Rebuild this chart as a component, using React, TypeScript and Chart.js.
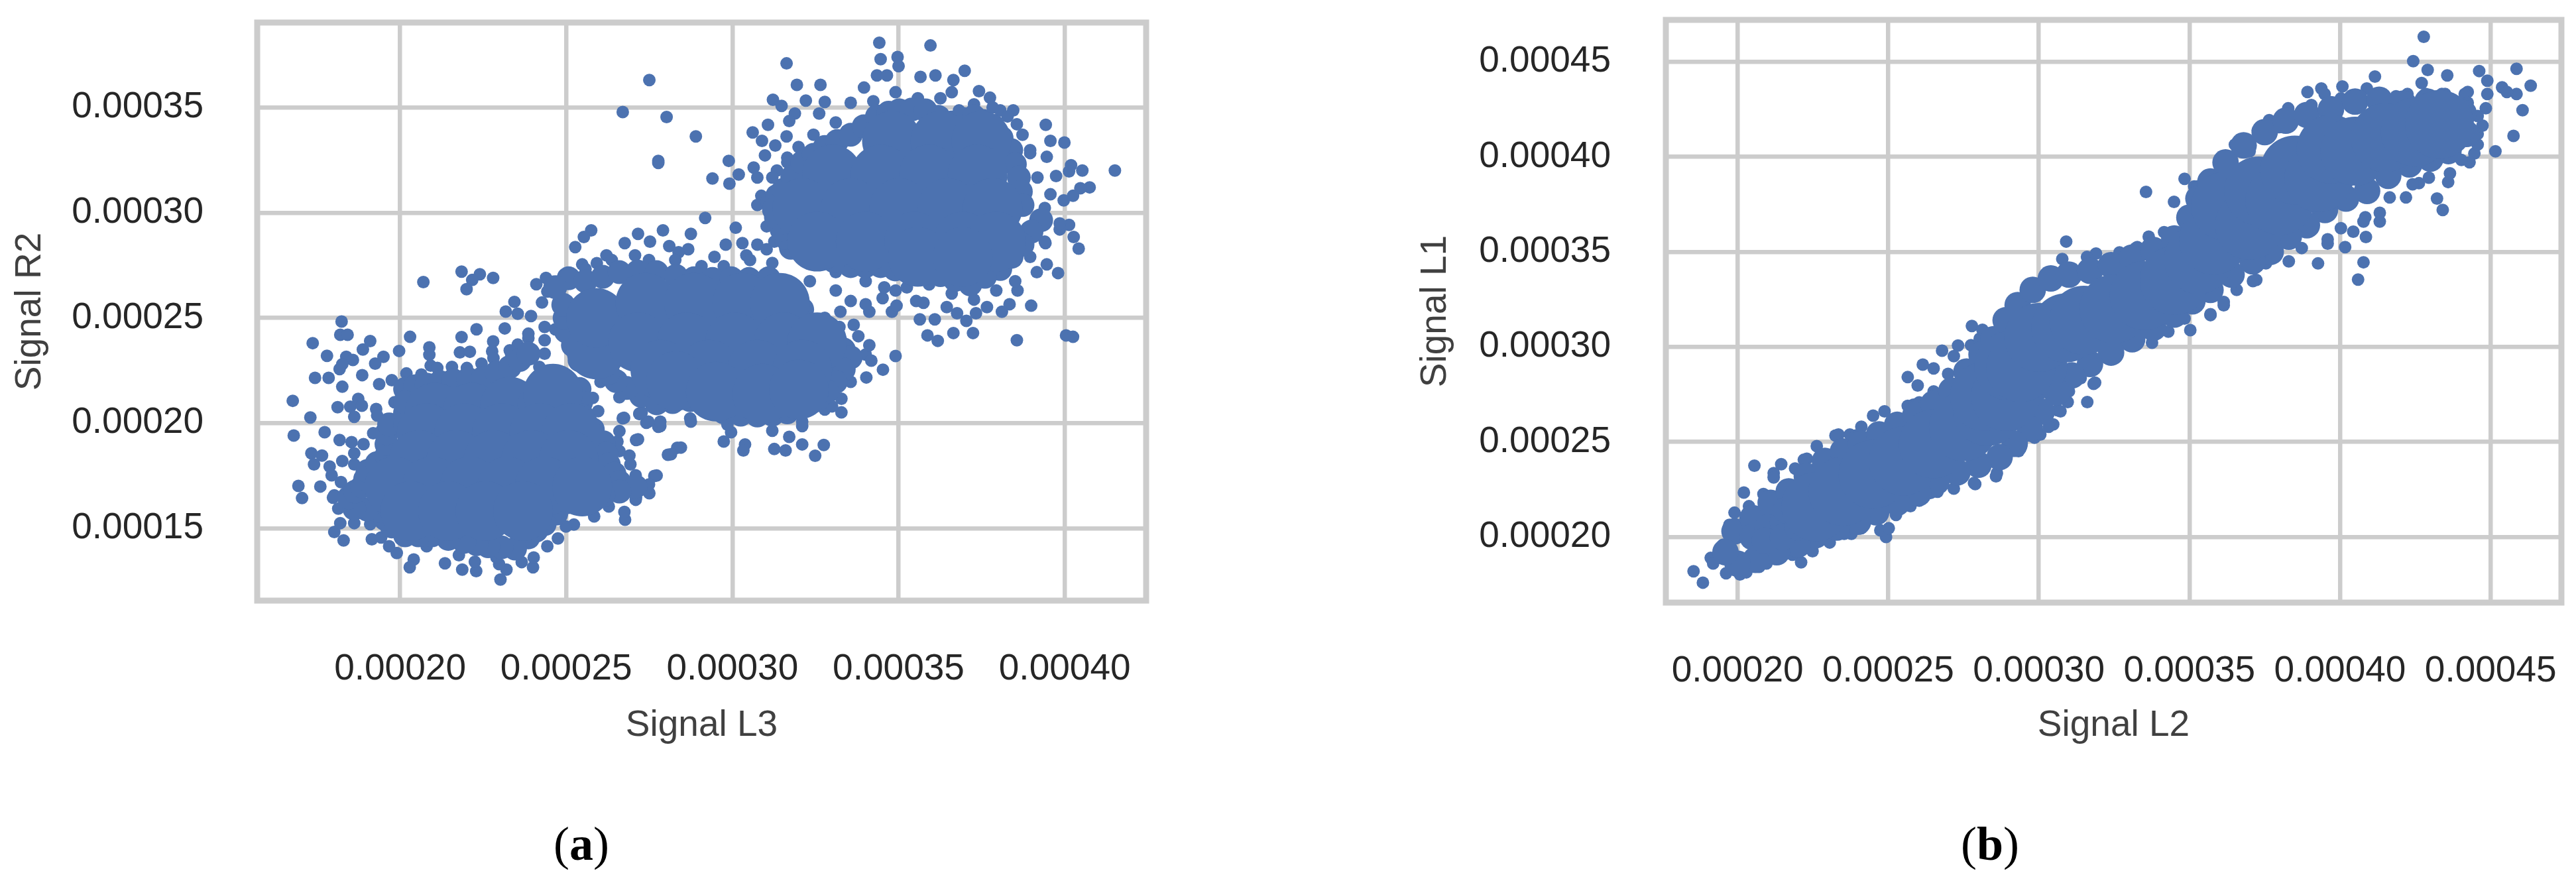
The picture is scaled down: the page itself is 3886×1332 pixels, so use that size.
import React, { useEffect, useRef } from "react";
import { Chart, registerables } from "chart.js";

Chart.register(...registerables);

// All signal values below are in units of 1e-5 as [x, y] pairs.
// The thousands of overlapping dots in the solid areas cannot be read one by one, so
// the "Core" and "Mantle" lists are hand-placed larger markers standing in for them.
const UNIT = 1e-5;

const aTicksX = [20, 25, 30, 35, 40];
const aTicksY = [15, 20, 25, 30, 35];
const bTicksX = [20, 25, 30, 35, 40, 45];
const bTicksY = [20, 25, 30, 35, 40, 45];

const aSparse = [
  [20.7,26.7],[21.85,27.2],[22.4,27.07],[22.8,26.9],[22.17,26.8],[22,26.36],[18.24,24.83],[18.2,24.2],[18.42,24.2],
  [17.37,23.8],[19.1,23.9],[18.88,23.5],[17.8,23.2],[18.38,23.15],[18.58,23],[19.5,23.15],[19.25,22.83],[19.97,23.43],
  [20.3,24.1],[18.18,22.57],[18.26,22.8],[17.44,22.15],[17.85,22.15],[18.86,22.28],[18.26,21.73],[19.37,21.85],
  [16.77,21.06],[18.12,20.76],[18.5,20.78],[18.74,21.15],[18.85,20.83],[18.62,20.3],[17.3,20.27],[19.28,20.67],
  [16.8,19.41],[17.73,19.57],[18.18,19.2],[18.54,19.1],[18.9,19],[18.62,18.57],[17.33,18.57],[17.65,18.46],[17.41,18.04],
  [18.26,18.2],[17.88,17.94],[17.94,17.52],[17.6,16.99],[16.94,17.02],[17.05,16.44],[17.98,16.46],[18.02,14.83],[18.2,15.25],
  [18.3,14.43],[19.15,14.48],[19.9,13.83],[20.41,13.52],[20.29,13.15],[21.35,13.34],[21.87,13.04],[22.29,12.97],[23.02,12.57],
  [23.2,13.04],[22.98,13.3],[23.66,13.4],[24,13.15],[24.75,14.52],[25.23,15.18],[25.84,15.57],[26.77,15.41],[26.75,15.78],
  [27.65,17.49],[27.5,16.67],[27.1,16.46],[26.9,18.46],[27.1,19.2],[28.06,18.5],[28.34,18.83],[26.7,20.23],[27.2,20.46],
  [27.41,20.02],[27.77,19.83],[21.85,24.09],[22.3,24.46],[20.88,23.6],[20.88,23.25],[20.92,22.73],[21.8,23.36],[22.1,23.39],
  [22.8,23.88],[22.77,23.41],[23.15,24.5],[23.18,25.3],[23.44,25.76],[24.1,26.6],[24.39,26.9],
  [27.5,36.3],[26.7,34.78],[28.02,34.54],[28.9,33.62],[27.77,32.46],[27.77,32.36],[29.18,29.75],[31.63,37.09],[34.42,38.07],
  [35.96,37.94],[34.46,37.29],[34.97,37.39],[35,36.96],[34.35,36.52],[34.65,36.52],[31.94,36.07],[32.65,36.07],[33.96,35.94],
  [35.66,36.45],[36.11,36.52],[36.99,36.74],[36.65,36.3],[36.6,35.72],[37.42,35.77],[37.75,35.46],[31.22,35.36],[31.48,35.07],
  [32.21,35.32],[32.78,35.26],[32.61,34.71],[31.88,34.71],[31.71,34.35],[31.07,34.17],[30.61,33.81],[30.89,33.41],[31.63,33.62],
  [31.29,33.19],[30.98,32.72],[29.89,32.46],[29.4,31.62],[29.91,31.38],[30.19,31.81],[30.64,32.14],[30.75,31.67],[31.34,32],
  [31.65,32.61],[38.06,34.86],[38.45,34.86],[38.56,34.2],[39.43,34.17],[39.57,33.41],[39.99,33.33],[39.46,32.65],[38.96,32.97],
  [40.19,32.25],[40.53,32],[41.51,32],[40.13,31.96],[39.74,31.74],[40.75,31.2],[40.47,31.16],[40.25,30.8],[39.97,30.58],
  [39.57,30.87],[40.13,29.42],[39.85,29.2],[40.27,28.84],[40.42,28.29],[39.8,27.13],[39.42,28.55],[39.46,27.54],[39.16,27.17],
  [38.99,25.58],[38.58,26.3],[38.34,25.65],[38.11,25.29],[38.56,23.94],[40.04,24.17],[40.25,24.1],[37.66,25.51],[37.33,25.22],
  [37.04,24.86],[37.24,24.28],[36.65,24.28],[36.76,25.22],[36.45,25.51],[36.09,24.93],[36.18,23.91],[35.87,24.17],[35.64,24.93],
  [35.53,25.8],[35.75,25.72],[34.8,25.29],[34.94,25.58],[34.52,25.94],[34.12,25.29],[34.01,25.65],[33.56,25.8],[33.25,25.29],
  [33.65,24.67],[34.01,23.26],[34.18,22.97],[34.53,22.54],[34.91,23.19],[34.03,22.17],[33.28,21.16],[33.28,20.51],[32.78,20.65],
  [32.1,19.86],[32.75,18.96],[32.1,18.99],[32.49,18.45],[31.6,18.7],[31.26,18.77],[31.71,19.35],[30.38,18.99],[30.33,18.7],
  [29.74,19.13],[29.96,19.57],[28.45,18.84],[28.15,18.52],[27.16,19.23],[26.74,20.25],[26.54,19.13],[27.72,17.51],[28.75,20.07],
  [27.83,19.86],[27.47,20.07],[27.2,20.43],[25.75,29.16],[25.53,28.84],[25.27,28.36],[27.16,28.99],[26.76,28.55],[27.52,28.62],
  [27.91,29.16],[28.75,28.99],[28.67,28.26],[28.1,28.41],[27.07,27.97],[26.21,27.97],[25.48,27.54],[28.38,28.12],[30.1,29.28],
  [29.8,28.48],[30.3,28.55],[30.75,28.48],[31.03,28.26],[30.42,27.97],[29.46,27.9],[25.92,27.6],
  [23.54,25.2],[23.94,25.09],[24.35,24.57],[23.86,24.04],[23.54,23.73],[24.35,23.94],[24.67,24.46],[24.27,25.73],[24.43,26.25],
  [23.34,23.3],[23.86,23.2],[24.35,23.3],[24.19,22.67],[32.33,26.74],[33.11,27.17],[33.11,26.3],[34.01,26.74],[34.91,26.3],[34.57,26.45],
];

const aEdge = [
  [19.75,22.04],[19.83,20.99],[19.31,20.36],[19.19,19.52],[20.19,22.36],[20.64,22.31],[21.12,22.62],[21.56,22.67],[22.01,22.62],[22.45,22.83],
  [22.81,23.09],[23.3,23.46],[23.86,24.25],[18.62,18.04],[18.22,17.2],[18.02,16.57],[18.14,15.94],[18.62,15.25],[19.1,15.2],[19.43,14.57],
  [19.67,14.15],[20.8,14.15],[21.77,13.73],[22.25,13.41],[22.9,13.62],[24.02,13.62],[24.43,14.15],[24.99,15.09],[25.56,15.94],[26.28,16.04],
  [27.09,16.36],[27.49,17.09],[27.09,17.52],[26.93,18.04],[26.6,18.67],[26.6,19.62],[25.96,20.57],[25.8,21.2],
  [25.58,27.32],[26.37,27.75],[27.49,27.75],[28.28,27.75],[29.07,27.46],[29.74,27.46],[30.53,27.75],[31.2,27.61],
  [32.78,25],[33.22,24.57],[33.79,24.13],[34.12,23.7],[33.67,22.97],[33.56,21.96],[33,20.8],[32.1,20.07],[31.2,19.64],[29.85,19.93],
  [28.73,20.22],[27.83,20.07],[27.27,20.51],[26.6,21.23],[26.03,21.96],
  [33.56,35.22],[34.24,35.29],[34.91,35.72],[35.58,35.43],[36.26,35.43],[36.82,34.86],[37.27,35.14],[37.83,35],[38.28,34.57],[38.73,33.7],
  [38.96,32.83],[39.18,31.67],[39.4,30.22],[39.85,29.49],[39.4,28.62],[38.96,27.9],[38.51,26.74],[37.94,26.3],[37.27,25.87],[36.6,26.16],
  [35.92,26.59],[35.25,26.45],[33.11,34.28],[32.44,33.7],[31.99,33.12],[31.65,32.39],[31.2,31.67],[30.87,30.8],[30.75,30.36],[31.03,29.35],[31.26,28.62],
];

const aMantle = [
  [20.15,21.62],[20.45,21.75],[20.8,21.83],[21.2,21.95],[21.6,22.04],[22.05,22.1],[22.49,22.15],[22.9,22.4],[23.3,22.67],[23.6,23],[23.86,23.3],
  [25.4,21.62],[25.45,21],[25.48,20.36],[25.8,19.7],[26.12,19.09],[26.2,18.55],[26.28,18.04],[26.45,17.6],[26.6,17.2],[27.09,16.99],[26.6,16.75],
  [26.12,16.57],[25.6,16.4],[25.07,16.25],[24.7,15.7],[24.35,15.2],[24.1,14.9],[23.86,14.57],[23.46,14.04],[23.05,14.1],[22.65,14.15],[22.3,14.25],
  [21.93,14.36],[21.45,14.5],[20.96,14.67],[20.55,14.67],[20.15,14.67],[19.75,15.09],[19.55,15.45],[19.35,15.83],[19,15.9],[18.62,15.94],[18.46,16.46],
  [18.65,16.75],[18.86,16.99],[18.95,17.35],[19.02,17.73],[19.3,18.1],[19.59,18.46],[19.59,19],[19.59,19.52],[19.67,19.94],[20.15,19.94],[20.15,20.5],[20.15,20.99],
  [25.07,26.88],[25.58,26.74],[26.1,26.95],[26.6,27.17],[27.15,27.2],[27.72,27.17],[28.3,27],[28.84,26.88],[29.4,26.85],[29.97,26.88],[30.5,26.85],[31.09,26.88],
  [31.5,26.5],[31.88,26.16],[32.1,25.4],[32.33,24.57],[32.7,24.2],[33.11,23.84],[33.35,23.5],[33.56,23.12],[33.35,22.55],[33.11,21.96],[32.85,21.5],[32.55,21.09],
  [32.1,20.8],[31.65,20.51],[31.2,20.4],[30.75,20.36],[30.25,20.4],[29.74,20.51],[29.25,20.8],[28.73,21.09],[28.2,21],[27.72,20.94],[27.25,21.3],[26.82,21.67],
  [26.5,22],[26.26,22.39],[25.8,22.8],[25.4,22.99],[25.2,23.7],[24.99,24.36],[24.95,25],[24.91,25.62],[24.67,26.46],
  [31.2,30.51],[31.35,30.8],[31.54,31.09],[31.8,31.7],[32.1,32.39],[32.45,32.75],[32.78,33.12],[33.15,33.4],[33.56,33.7],[33.95,34.1],[34.35,34.57],[34.7,34.75],
  [35.02,34.86],[35.4,34.9],[35.81,34.86],[36.2,34.55],[36.6,34.28],[36.95,34.45],[37.27,34.57],[37.55,34.35],[37.83,34.13],[38.1,33.55],[38.39,32.97],[38.5,32.3],
  [38.62,31.67],[38.68,31],[38.73,30.36],[39.29,29.64],[39,29.1],[38.73,28.48],[38.4,27.9],[38.06,27.32],[37.6,26.95],[37.16,26.59],[36.7,26.8],[36.26,27.03],
  [35.8,27.1],[35.36,27.17],[34.9,27.3],[34.46,27.46],[34,27.45],[33.56,27.46],[33.05,27.7],[32.55,27.9],[32.15,28.1],[31.76,28.33],[31.6,28.8],[31.48,29.2],
  [31.4,29.5],[31.31,29.78],[31.25,30.15],
];

const aCore = [
  [21.04,20.5],[22.17,20.5],[23.3,20.78],[24.43,20.78],[24.6,21.4],
  [20.8,19.52],[21.93,19.52],[23.06,19.52],[24.19,19.52],[25.15,19.52],
  [20.56,18.25],[21.69,18.25],[22.81,18.25],[23.94,18.25],[25.07,18.25],
  [19.83,16.99],[20.96,16.99],[22.09,16.99],[23.22,16.99],[24.35,16.99],[25.48,16.99],
  [20.31,15.83],[21.44,15.83],[22.57,15.83],[23.7,15.83],
  [25.9,23.5],[25.9,25],
  [27.38,25.72],[28.84,25.72],[30.3,25.72],[31.43,25.72],
  [27.16,23.84],[28.62,23.84],[30.08,23.84],[31.54,23.84],[32.55,23.84],
  [27.83,22.54],[29.29,22.54],[30.75,22.54],[32.1,22.54],
  [28.3,22],[29.5,21.5],[30.9,21.4],[32,21.6],
  [34.8,33.41],[36.26,33.41],[37.49,33.41],
  [33,31.81],[34.46,31.81],[35.92,31.81],[37.38,31.81],
  [32.1,30.22],[33.56,30.22],[35.02,30.22],[36.48,30.22],[37.83,30.22],
  [32.55,28.62],[34.01,28.62],[35.47,28.62],[36.93,28.62],[37.94,28.62],
  [35.58,27.9],[36.93,27.9],
];

const bSparse = [
  [18.54,18.2],[18.85,17.6],[19.11,18.9],[19.19,18.61],[19.52,19.59],[19.73,20.64],[20.21,22.34],[20.56,23.75],[21.45,23.83],
  [22.11,18.67],[19.62,18.09],[20.08,18.03],[20.72,18.43],[21.44,19.01],[22.49,19.25],[23.06,19.71],[23.78,20.17],[24.93,20],
  [24.74,20.35],[25.02,20.46],[26.03,21.91],[26.64,22.38],[27.89,22.78],[28.58,23.19],[29.33,24.52],[30.05,25.39],[30.48,25.92],
  [30.96,27.1],[31.61,27.1],[31.82,28.06],[30.62,26.67],[25.65,28.41],[25.98,27.97],[26.15,29.07],[26.51,28.87],[26.79,29.8],
  [27.32,30.07],[27.78,31.1],[26.99,28.58],[24.5,26.38],[24.88,26.61],[25.84,26.96],[22.63,24.78],[23.35,25.39],[23.73,25.39],
  [22.3,24.12],[21.2,23.36],
  [30.91,35.54],[33.65,35.8],[34.16,36.03],[33.56,38.15],[34.49,37.63],[34.84,38.84],[35.16,38.44],[35.7,38.67],[35.11,36.99],
  [35.03,30.88],[33.27,35.25],[32.68,34.85],[31.9,34.91],[30.78,34.62],[36.35,39.48],[36.51,40.64],[37.27,41.39],[37.65,41.93],
  [38.28,42.55],[38.32,42.03],[38.92,43.41],[38.89,42.55],[39.38,43.59],[40.08,43.7],[41.16,44.22],[40.89,43.59],[42.78,46.31],
  [42.43,45.03],[42.91,44.57],[42.71,43.88],[43.56,44.28],[44.62,44.51],[44.89,44],[45.86,44.63],[46.33,43.74],[45.38,43.65],
  [45.86,43.3],[45.54,43.41],[44.89,43.3],[44.84,42.55],[46.06,42.45],[45.76,41.1],[45.16,40.29],[44.73,41.64],[44.46,40.17],
  [44.3,39.71],[43.59,38.67],[42.62,38.61],[43.22,37.8],[43.41,37.2],[42.19,37.86],[41.32,36.59],[40.84,36.82],[40.44,36.06],
  [40.86,35.78],[40.17,35.25],[39.59,35.43],[39.27,34.39],[40.78,34.45],[40.6,33.54],[44.24,43.41],[43.38,43.3],[42.24,43.3],
  [37.22,33.52],[36.14,32.36],[35.7,31.67],
];

const bEdge = [
  [19.9,21.28],[20.38,21.62],[20.86,22.26],[21.2,23.13],[21.91,23.6],[22.2,24.06],[23.25,25.34],[23.92,25.34],[24.11,25.8],[25.65,26.9],
  [26.03,27.08],[26.51,27.66],[27.18,29.51],[27.75,30.09],[28.04,30.44],[28.13,30.9],
  [20.29,18.14],[20.96,18.61],[21.82,19.07],[23.54,20.17],[24.11,20.46],[25.26,21.16],[25.74,21.62],[26.41,22.32],[27.18,22.55],[27.85,22.84],
  [28.61,23.36],[28.71,24.06],[29.38,24.64],[29.86,25.22],[30.33,25.8],[30.72,26.61],[31,27.66],[31.39,28.35],[31.87,28.12],
  [31.6,34.73],[32.68,34.97],[33.22,35.2],[33.76,35.2],[34.62,35.89],[35.05,37.05],[34.95,36.59],[35.27,38.44],[35.92,38.67],[36.24,39.6],
  [36.57,40.64],[37,40.29],[37.43,41.22],[37.97,41.56],[38.3,42.26],[39.05,42.72],[39.49,43.3],[40.03,43.07],[40.68,43.18],[41.32,43.3],
  [41.86,43.18],[42.84,43.3],[43.49,43.3],[44.14,43.3],[44.24,42.84],[44.57,42.14],
  [44.57,41.2],[44.57,40.64],[44.03,39.83],[43.65,39.13],[42.95,38.9],[42.41,38.55],[41.65,37.86],[41.32,37.05],[40.78,36.59],[40.03,36.24],
  [39.59,35.66],[38.73,35.2],[38.3,34.5],[37.54,34.39],[37.11,33.46],[36.57,33],[36.14,32.19],[35.7,31.72],[34.84,31.49],[34.3,30.8],[33.76,30.22],
];

const bMantle = [
  [19.9,20.3],[20.5,21],[21.1,21.8],[21.7,22.4],[22.3,23.2],[22.9,24],[23.5,24.5],[24.1,24.9],[24.7,25.4],[25.3,25.9],[25.9,26.4],
  [26.5,27],[27.1,27.7],[27.6,28.7],[28.1,29.6],[28.5,30.4],[28.9,31.4],[29.3,32.2],[29.8,33],[30.4,33.6],[31,33.8],[31.7,34],
  [32.4,34.3],[33.1,34.7],[33.8,35.1],[34.5,35.7],[35,36.8],[35.3,37.8],[35.7,38.7],[36.2,39.7],[36.8,40.6],[37.5,41.3],[38.2,41.9],
  [38.9,42.2],[39.7,42.5],[40.5,42.9],[41.3,43],[42.1,42.8],[42.9,42.9],[43.6,42.7],[44.1,42.3],
  [44.2,41.2],[43.6,40.3],[43,39.9],[42.3,39.6],[41.6,39],[40.9,38.2],[40.2,37.8],[39.5,37.2],[38.9,36.4],[38.3,35.8],[37.7,35],
  [37.1,34.5],[36.4,33.8],[35.7,33],[35.1,32.4],[34.5,31.7],[33.8,31],[33.1,30.4],[32.4,29.7],[31.7,29.1],[31.1,28.5],[30.6,27.6],
  [30.1,26.6],[29.7,25.7],[29.2,24.9],[28.7,24.2],[28,23.8],[27.3,23.4],[26.6,22.9],[26,22.3],[25.3,21.8],[24.6,21.3],[24,20.8],
  [23.3,20.5],[22.6,20.1],[22,19.6],[21.3,19.2],[20.6,18.8],[20,18.6],[19.6,19.2],
  [20.5,20],[21,20.5],[21.5,20.8],[22,21.3],[20.9,19.8],[21.5,20],[22,20.5],[22.3,22],[21.6,21.4],
];

const bCore = [
  [22.6,21.6],[23.5,22.4],[24.5,23.3],[25.5,24],[26.5,24.9],[27.5,25.8],[28.3,26.6],[28.2,27.4],[28.9,27.4],[29,29],[29.8,29],[29.4,28.9],[30,30.5],[30.9,31],
  [31.5,31.4],[32.5,32],[33.5,32.7],[34.5,33.5],[35.3,34.6],[35.8,35.6],[36.2,37.4],[37,36.4],[37.3,38.2],[38,37.7],[38.5,39.3],
  [39.3,38.9],[39.7,40.4],[40.5,40.3],[41.5,41],[42.5,41.3],[43.3,41.7],
];

const BLUE = "#4c72b0";
const GRID = "#cccccc";
const INK = "#262626";
const TICK_FONT = { family: "'Liberation Sans', Arial, sans-serif", size: 55 };

const framePlugin = {
  id: "frame",
  beforeDatasetsDraw(chart: any) {
    const { ctx, chartArea: a } = chart;
    ctx.save();
    ctx.strokeStyle = GRID;
    ctx.lineWidth = 9;
    ctx.strokeRect(a.left, a.top, a.right - a.left, a.bottom - a.top);
    ctx.restore();
  },
};

const toPoints = (pairs: number[][]) => pairs.map(([x, y]) => ({ x: x * UNIT, y: y * UNIT }));
const fmt = (v: number | string) => Number(v).toFixed(5);

type PanelProps = {
  left: number;
  sparse: number[][];
  mantle: number[][];
  core: number[][];
  mantleRadius: number;
  coreRadius: number;
  ticksX: number[];
  ticksY: number[];
  rangeX: number[];
  rangeY: number[];
  titleX: string;
  titleY: string;
  box: { yWidth: number; xHeight: number; top: number; right: number };
  pad: { yTick: number; xTick: number; yTitle: number; xTitle: number };
};

function Panel(p: PanelProps) {
  const ref = useRef<HTMLCanvasElement>(null);
  useEffect(() => {
    const chart = new Chart(ref.current as HTMLCanvasElement, {
      type: "scatter",
      data: {
        datasets: [
          { label: "Core", data: toPoints(p.core), pointRadius: p.coreRadius, backgroundColor: BLUE, borderWidth: 0 },
          { label: "Mantle", data: toPoints(p.mantle), pointRadius: p.mantleRadius, backgroundColor: BLUE, borderWidth: 0 },
          { label: "Sparse", data: toPoints(p.sparse), pointRadius: 9.5, backgroundColor: BLUE, borderWidth: 0 },
        ],
      },
      options: {
        animation: false,
        responsive: false,
        devicePixelRatio: 1,
        layout: { autoPadding: false, padding: { left: 0, top: p.box.top, right: p.box.right, bottom: 0 } },
        plugins: { legend: { display: false }, tooltip: { enabled: false } },
        scales: {
          x: {
            type: "linear",
            min: p.rangeX[0] * UNIT,
            max: p.rangeX[1] * UNIT,
            afterBuildTicks: (s: any) => { s.ticks = p.ticksX.map((v) => ({ value: v * UNIT })); },
            afterFit: (s: any) => { s.height = p.box.xHeight; s.paddingLeft = 0; s.paddingRight = 0; },
            grid: { color: GRID, lineWidth: 6.5, drawTicks: false },
            border: { display: false },
            ticks: { callback: fmt, font: TICK_FONT, color: INK, padding: p.pad.xTick, autoSkip: false, maxRotation: 0 },
            title: { display: true, text: p.titleX, font: TICK_FONT, color: "#404040", padding: { top: 0, bottom: p.pad.xTitle } },
          },
          y: {
            type: "linear",
            min: p.rangeY[0] * UNIT,
            max: p.rangeY[1] * UNIT,
            afterBuildTicks: (s: any) => { s.ticks = p.ticksY.map((v) => ({ value: v * UNIT })); },
            afterFit: (s: any) => { s.width = p.box.yWidth; s.paddingTop = 0; s.paddingBottom = 0; },
            grid: { color: GRID, lineWidth: 6.5, drawTicks: false },
            border: { display: false },
            ticks: { callback: fmt, font: TICK_FONT, color: INK, padding: p.pad.yTick, autoSkip: false },
            title: { display: true, text: p.titleY, font: TICK_FONT, color: "#404040", padding: { top: p.pad.yTitle, bottom: 0 } },
          },
        },
      },
      plugins: [framePlugin],
    } as any);
    return () => chart.destroy();
  }, []);
  return (
    <canvas
      ref={ref}
      width={1943}
      height={1332}
      style={{ position: "absolute", left: p.left, top: 0, width: 1943, height: 1332 }}
    />
  );
}

function Caption({ letter, center }: { letter: string; center: number }) {
  return (
    <div
      style={{
        position: "absolute",
        left: center - 100,
        width: 200,
        top: 1228,
        textAlign: "center",
        fontFamily: "'Liberation Serif', serif",
        fontSize: 72,
        lineHeight: "90px",
        color: "#000",
      }}
    >
      (<b>{letter}</b>)
    </div>
  );
}

export default function App() {
  return (
    <div style={{ position: "absolute", left: 0, top: 0, width: 3886, height: 1332, background: "#fff", overflow: "hidden" }}>
      <Panel
        left={0}
        sparse={[...aSparse, ...aEdge]}
        mantle={aMantle}
        core={aCore}
        mantleRadius={18}
        coreRadius={45}
        ticksX={aTicksX}
        ticksY={aTicksY}
        rangeX={[15.7, 42.45]}
        rangeY={[11.57, 39.03]}
        titleX="Signal L3"
        titleY="Signal R2"
        box={{ yWidth: 388, xHeight: 426, top: 34, right: 214 }}
        pad={{ yTick: 81, xTick: 71, yTitle: 13, xTitle: 204 }}
      />
      <Panel
        left={1943}
        sparse={[...bSparse, ...bEdge]}
        mantle={bMantle}
        core={bCore}
        mantleRadius={20}
        coreRadius={52}
        ticksX={bTicksX}
        ticksY={bTicksY}
        rangeX={[17.62, 47.35]}
        rangeY={[16.55, 47.2]}
        titleX="Signal L2"
        titleY="Signal L1"
        box={{ yWidth: 570, xHeight: 423, top: 30, right: 22 }}
        pad={{ yTick: 83, xTick: 71, yTitle: 190, xTitle: 204 }}
      />
      <Caption letter="a" center={877} />
      <Caption letter="b" center={3002} />
    </div>
  );
}
